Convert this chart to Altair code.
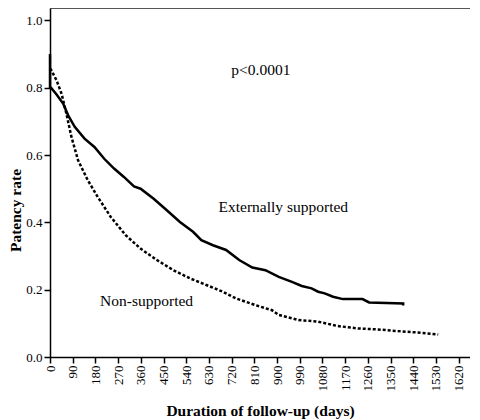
import altair as alt
import pandas as pd

ext_days = [0, 0, 4, 26, 52, 72, 98, 137, 176, 215, 254, 293, 333, 359, 411, 463, 515, 567, 600,
            646, 698, 750, 802, 854, 907, 959, 998, 1037, 1063, 1089, 1122, 1161, 1239, 1265, 1400, 1400]
ext_vals = [0.90, 0.80, 0.80, 0.78, 0.753, 0.718, 0.684, 0.649, 0.624, 0.589, 0.560, 0.535, 0.507,
            0.500, 0.470, 0.436, 0.401, 0.372, 0.347, 0.332, 0.318, 0.288, 0.266, 0.258, 0.238,
            0.223, 0.211, 0.204, 0.194, 0.189, 0.179, 0.172, 0.172, 0.162, 0.159, 0.153]

non_days = [0, 4, 26, 46, 65, 85, 111, 150, 189, 241, 300, 359, 424, 489, 554, 620, 685, 737,
            815, 880, 907, 985, 1063, 1141, 1220, 1298, 1376, 1455, 1539]
non_vals = [0.857, 0.854, 0.822, 0.782, 0.723, 0.654, 0.585, 0.525, 0.476, 0.416, 0.362, 0.322,
            0.288, 0.258, 0.234, 0.214, 0.194, 0.174, 0.154, 0.139, 0.125, 0.110, 0.105, 0.092,
            0.085, 0.082, 0.077, 0.073, 0.067]

x_ticks = list(range(0, 1621, 90))
y_ticks = [0.0, 0.2, 0.4, 0.6, 0.8, 1.0]

labels = ["p<0.0001", "Externally supported", "Non-supported"]
label_days = [836, 925, 383]
label_vals = [0.852, 0.445, 0.166]

ext = pd.DataFrame({"day": ext_days, "rate": ext_vals, "order": range(len(ext_days))})
non = pd.DataFrame({"day": non_days, "rate": non_vals, "order": range(len(non_days))})
lab = pd.DataFrame({"text": labels, "day": label_days, "rate": label_vals})

FONT = "Liberation Serif"
XMAX = 1665
YMAX = 1.037

common = dict(grid=False, domainColor="black", tickColor="black", tickSize=6, labelColor="black",
              labelFont=FONT, labelFontSize=13, titleFont=FONT, titleFontSize=15.5,
              titleFontWeight="bold", titleColor="black", labelPadding=2, domainWidth=1.5,
              tickWidth=1.5, labelOverlap=False)

xenc = alt.X("day:Q", scale=alt.Scale(domain=[0, XMAX], nice=False, zero=False),
             axis=alt.Axis(values=x_ticks, format="d", labelAngle=270, labelAlign="right",
                           labelBaseline="middle", title="Duration of follow-up (days)",
                           titlePadding=12, labelFlush=False, **common))
yenc = alt.Y("rate:Q", scale=alt.Scale(domain=[0, YMAX], nice=False),
             axis=alt.Axis(values=y_ticks, format=".1f", title="Patency rate",
                           titlePadding=2, titleY=202, **common))

solid = alt.Chart(ext).mark_line(color="black", strokeWidth=2.5).encode(x=xenc, y=yenc, order="order:Q")
dashed = alt.Chart(non).mark_line(color="black", strokeWidth=2.5, strokeDash=[3, 2]).encode(
    x=xenc, y=yenc, order="order:Q")
text = alt.Chart(lab).mark_text(font=FONT, color="black", align="center", baseline="middle",
                                fontSize=15.5).encode(x=xenc, y=yenc, text="text:N")

chart = (solid + dashed + text).properties(
    width=420, height=349, background="white",
    padding={"left": 0, "top": 0, "right": 0, "bottom": 0}
).configure_view(stroke="#555", strokeWidth=1)

chart.save("out.html", embed_options={"renderer": "svg", "actions": False})
